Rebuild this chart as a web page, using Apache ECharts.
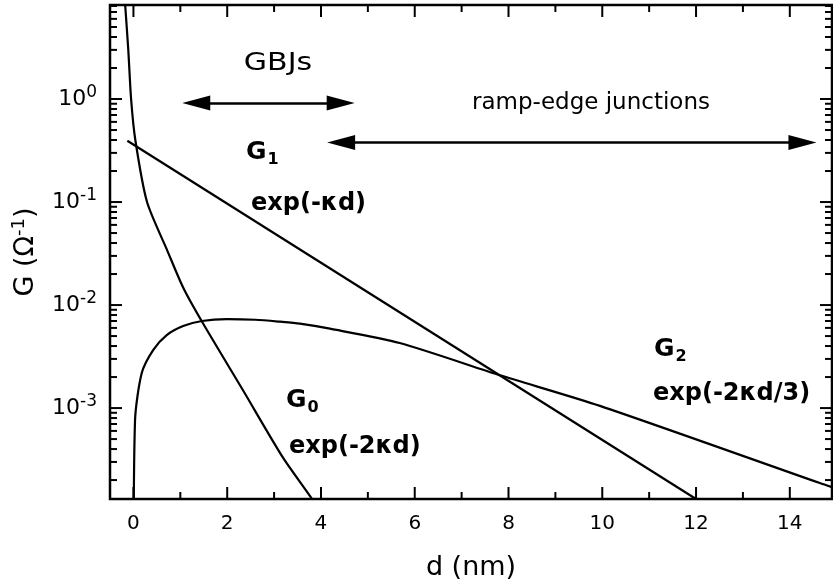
<!DOCTYPE html>
<html>
<head>
<meta charset="utf-8">
<script src="https://cdn.jsdelivr.net/npm/echarts@6/dist/echarts.min.js"></script>
<style>html,body{margin:0;padding:0;background:#fff}#c{width:833px;height:586px}</style>
</head>
<body>
<div id="c"></div>
<script>
// ---- data ----
const xRange = [-0.5, 14.9];
const yRange = [1.31e-4, 8.18];
const xMajorTicks = [0, 2, 4, 6, 8, 10, 12, 14];
const xMinorTicks = [1, 3, 5, 7, 9, 11, 13];
const yMajorTicks = [1e-3, 1e-2, 1e-1, 1];
const yMinorTicks = [
  2e-4, 3e-4, 4e-4, 5e-4, 6e-4, 7e-4, 8e-4, 9e-4,
  2e-3, 3e-3, 4e-3, 5e-3, 6e-3, 7e-3, 8e-3, 9e-3,
  2e-2, 3e-2, 4e-2, 5e-2, 6e-2, 7e-2, 8e-2, 9e-2,
  2e-1, 3e-1, 4e-1, 5e-1, 6e-1, 7e-1, 8e-1, 9e-1,
  2, 3, 4, 5, 6, 7, 8
];
// G0 ~ exp(-2kd)
const g0 = [[-0.19, 10], [-0.11, 3.0], [-0.05, 1.0], [0.04, 0.40], [0.29, 0.10], [0.72, 0.034],
  [1.06, 0.0148], [1.47, 0.0068], [2.34, 0.00148], [3.19, 3.3e-4], [3.81, 1.31e-4], [3.9, 1.1e-4]];
// G1 ~ exp(-kd)
const g1 = [[-0.13, 0.394], [12.0, 1.31e-4]];
// G2 ~ exp(-2kd/3)
const g2 = [[0, 1e-5], [0.034, 7.6e-4], [0.177, 2.19e-3], [0.42, 3.66e-3], [0.71, 5.11e-3],
  [1.06, 6.25e-3], [1.46, 7.0e-3], [1.99, 7.31e-3], [2.6, 7.2e-3], [3.13, 6.89e-3],
  [3.55, 6.6e-3], [4.19, 5.9e-3], [5.68, 4.28e-3], [7.82, 2.08e-3], [9.95, 1.05e-3],
  [14.64, 1.87e-4], [14.9, 1.71e-4]];
// annotation arrows: [from, to] in nm, at a G level
const gbjsArrow = { from: 1.34, to: 4.42, level: 0.914 };
const rampArrow = { from: 4.43, to: 14.27, level: 0.378 };

const FONT = '"DejaVu Sans", sans-serif';
const chart = echarts.init(document.getElementById('c'), null, { renderer: 'canvas' });

function tickLine(x1, y1, x2, y2) {
  return { type: 'line', shape: { x1, y1, x2, y2 }, style: { stroke: '#000', lineWidth: 2 } };
}
function xTickRender(params, api) {
  const len = api.value(2) === 1 ? 12 : 7;
  const b = api.coord([api.value(0), yRange[0]]);
  const t = api.coord([api.value(0), yRange[1]]);
  return { type: 'group', children: [tickLine(b[0], b[1], b[0], b[1] - len), tickLine(t[0], t[1], t[0], t[1] + len)] };
}
function yTickRender(params, api) {
  const len = api.value(2) === 1 ? 12 : 7;
  const l = api.coord([xRange[0], api.value(1)]);
  const r = api.coord([xRange[1], api.value(1)]);
  return { type: 'group', children: [tickLine(l[0], l[1], l[0] + len, l[1]), tickLine(r[0], r[1], r[0] - len, r[1])] };
}
const xTickData = xMajorTicks.map(v => [v, yRange[0], 1]).concat(xMinorTicks.map(v => [v, yRange[0], 0]));
const yTickData = yMajorTicks.map(v => [xRange[0], v, 1]).concat(yMinorTicks.map(v => [xRange[0], v, 0]));

const curveStyle = { color: '#000', width: 2.2 };
function arrowLine(a) {
  return [{ coord: [a.from, a.level] }, { coord: [a.to, a.level] }];
}

chart.setOption({
  animation: false,
  backgroundColor: '#fff',
  grid: { left: 110, right: 1, top: 5, bottom: 87, show: true, borderColor: '#000', borderWidth: 2.5, backgroundColor: 'transparent' },
  xAxis: {
    type: 'value', min: xRange[0], max: xRange[1], splitNumber: 8,
    axisLine: { show: false }, axisTick: { show: false }, splitLine: { show: false },
    axisLabel: { showMinLabel: false, showMaxLabel: false, color: '#000', fontFamily: FONT, fontSize: 20, margin: 15 },
    name: 'd (nm)', nameLocation: 'middle', nameGap: 55,
    nameTextStyle: { color: '#000', fontFamily: FONT, fontSize: 27 }
  },
  yAxis: {
    type: 'log', logBase: 10, min: yRange[0], max: yRange[1],
    axisLine: { show: false }, axisTick: { show: false }, splitLine: { show: false }, minorTick: { show: false },
    axisLabel: {
      showMinLabel: false, showMaxLabel: false, margin: 13,
      formatter: function (v) {
        const e = Math.round(Math.log10(v));
        if (Math.abs(Math.log10(v) - e) > 1e-6) return '';
        return '10{sup|' + e + '}';
      },
      rich: {
        sup: { fontFamily: FONT, fontSize: 17, color: '#000', verticalAlign: 'top', padding: [0, 0, 13, 0] }
      },
      color: '#000', fontFamily: FONT, fontSize: 22
    },
    name: 'G (Ω{sup|-1})', nameLocation: 'middle', nameGap: 68, nameRotate: 90,
    nameTextStyle: {
      color: '#000', fontFamily: FONT, fontSize: 27,
      rich: { sup: { fontFamily: FONT, fontSize: 18, color: '#000', padding: [0, 0, 14, 0] } }
    }
  },
  series: [
    { type: 'line', name: 'G0', data: g0, showSymbol: false, smooth: 0.25, lineStyle: curveStyle, clip: true, silent: true },
    { type: 'line', name: 'G1', data: g1, showSymbol: false, lineStyle: curveStyle, clip: true, silent: true,
      markLine: {
        silent: true, symbol: ['triangle', 'triangle'], symbolSize: [15, 28], label: { show: false },
        lineStyle: { color: '#000', width: 2.5, type: 'solid' },
        data: [arrowLine(gbjsArrow), arrowLine(rampArrow)]
      } },
    { type: 'line', name: 'G2', data: g2, showSymbol: false, smooth: 0.25, lineStyle: curveStyle, clip: true, silent: true },
    { type: 'custom', name: 'xticks', data: xTickData, renderItem: xTickRender, silent: true, clip: false },
    { type: 'custom', name: 'yticks', data: yTickData, renderItem: yTickRender, silent: true, clip: false }
  ],
  graphic: [
    { type: 'text', x: 278, y: 64, scaleX: 1.25, style: { text: 'GBJs', font: '24px ' + FONT, fill: '#000', align: 'center', verticalAlign: 'middle' } },
    { type: 'text', x: 591, y: 103, style: { text: 'ramp-edge junctions', font: '23px ' + FONT, fill: '#000', align: 'center', verticalAlign: 'middle' } },
    { type: 'text', x: 246, y: 152, style: { text: 'G{s|1}', font: 'bold 25px ' + FONT, fill: '#000', align: 'left', verticalAlign: 'middle',
        rich: { s: { font: 'bold 16px ' + FONT, padding: [15, 0, 0, 1] } } } },
    { type: 'text', x: 247, y: 204, style: { text: 'exp(-κd)', font: 'bold 24px ' + FONT, fill: '#000', align: 'left', verticalAlign: 'middle', backgroundColor: '#fff', padding: [0, 2, 0, 4] } },
    { type: 'text', x: 286, y: 400, style: { text: 'G{s|0}', font: 'bold 25px ' + FONT, fill: '#000', align: 'left', verticalAlign: 'middle',
        rich: { s: { font: 'bold 16px ' + FONT, padding: [15, 0, 0, 1] } } } },
    { type: 'text', x: 285, y: 447, style: { text: 'exp(-2κd)', font: 'bold 24px ' + FONT, fill: '#000', align: 'left', verticalAlign: 'middle', backgroundColor: '#fff', padding: [0, 2, 0, 4] } },
    { type: 'text', x: 654, y: 349, style: { text: 'G{s|2}', font: 'bold 25px ' + FONT, fill: '#000', align: 'left', verticalAlign: 'middle',
        rich: { s: { font: 'bold 16px ' + FONT, padding: [15, 0, 0, 1] } } } },
    { type: 'text', x: 653, y: 394, style: { text: 'exp(-2κd/3)', font: 'bold 24px ' + FONT, fill: '#000', align: 'left', verticalAlign: 'middle' } }
  ]
});
</script>
</body>
</html>
